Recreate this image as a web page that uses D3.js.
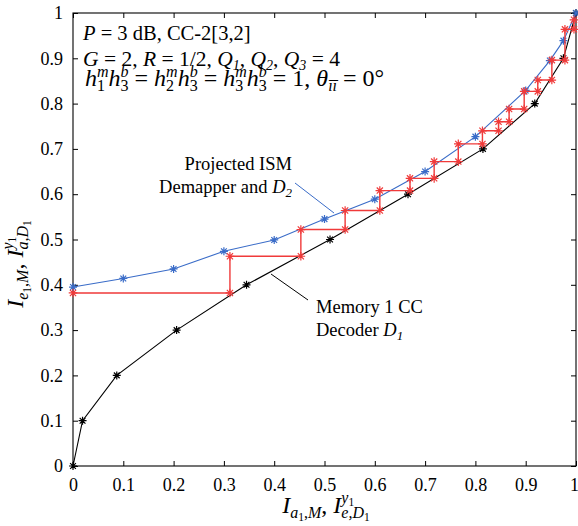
<!DOCTYPE html>
<html>
<head>
<meta charset="utf-8">
<script src="https://cdn.jsdelivr.net/npm/d3@7"></script>
<style>
  html, body { margin: 0; padding: 0; background: #fff; }
  svg { display: block; }
  text { font-family: "Liberation Serif", "Times New Roman", serif; fill: #000; white-space: pre; }
</style>
</head>
<body>
<svg id="chart" width="578" height="526"></svg>
<script>
// EXIT chart: decoder D1 transfer curve, projected ISM demapper + D2 curve, decoding trajectory

// Memory 1 CC decoder D1
const decoderX = [0, 0.019, 0.087, 0.206, 0.345, 0.511, 0.666, 0.815, 0.918, 0.975, 1];
const decoderY = [0, 0.1, 0.2, 0.3, 0.4, 0.5, 0.6, 0.7, 0.8, 0.9, 1];

// Projected ISM demapper and D2
const demapX = [0, 0.1, 0.2, 0.3, 0.4, 0.5, 0.6, 0.7, 0.8, 0.9, 0.948, 0.975, 1];
const demapY = [0.395, 0.414, 0.435, 0.474, 0.499, 0.545, 0.589, 0.650, 0.727, 0.829, 0.895, 0.939, 1];

// Decoding trajectory (staircase corners)
const trajX = [0, 0.312, 0.312, 0.453, 0.453, 0.541, 0.541, 0.610, 0.610, 0.670, 0.670, 0.718, 0.718,
               0.766, 0.766, 0.814, 0.814, 0.846, 0.846, 0.867, 0.867, 0.897, 0.897, 0.924, 0.924,
               0.952, 0.952, 0.978, 0.978, 0.996, 0.996];
const trajY = [0.382, 0.382, 0.463, 0.463, 0.522, 0.522, 0.564, 0.564, 0.608, 0.608, 0.635, 0.635, 0.672,
               0.672, 0.711, 0.711, 0.740, 0.740, 0.760, 0.760, 0.788, 0.788, 0.827, 0.827, 0.852,
               0.852, 0.896, 0.896, 0.964, 0.964, 0.985];

const tickValues = [0, 0.1, 0.2, 0.3, 0.4, 0.5, 0.6, 0.7, 0.8, 0.9, 1];
const tickLabels = ["0", "0.1", "0.2", "0.3", "0.4", "0.5", "0.6", "0.7", "0.8", "0.9", "1"];

const BLACK = "#000000";
const BLUE = "#3a6cc8";
const RED = "#f03a3a";

const svg = d3.select("#chart");
const plot = { left: 73, right: 576, top: 13, bottom: 466 };

const x = d3.scaleLinear().domain([0, 1]).range([plot.left, plot.right]);
const y = d3.scaleLinear().domain([0, 1]).range([plot.bottom, plot.top]);

// axes with inward ticks on all four sides
const fmt = (d) => tickLabels[tickValues.indexOf(d)];
const axisStyle = (g) => {
  g.selectAll(".domain").remove();
  g.selectAll("line").attr("stroke", "#000").attr("stroke-width", 1);
  g.selectAll("text").style("font-size", "18px").style("font-family", "'Liberation Serif', serif");
};

const bottomAxis = svg.append("g").attr("transform", `translate(0,${plot.bottom})`)
  .call(d3.axisBottom(x).tickValues(tickValues).tickFormat(fmt).tickSizeInner(-5).tickSizeOuter(0).tickPadding(12))
  .call(axisStyle);
// keep the last label inside the canvas edge
bottomAxis.selectAll(".tick").filter((d) => d === 1).select("text").attr("dx", "-2");

svg.append("g").attr("transform", `translate(0,${plot.top})`)
  .call(d3.axisTop(x).tickValues(tickValues).tickFormat("").tickSizeInner(-5).tickSizeOuter(0))
  .call(axisStyle);
svg.append("g").attr("transform", `translate(${plot.left},0)`)
  .call(d3.axisLeft(y).tickValues(tickValues).tickFormat(fmt).tickSizeInner(-5).tickSizeOuter(0).tickPadding(10))
  .call(axisStyle);
svg.append("g").attr("transform", `translate(${plot.right},0)`)
  .call(d3.axisRight(y).tickValues(tickValues).tickFormat("").tickSizeInner(-5).tickSizeOuter(0))
  .call(axisStyle);

svg.append("rect")
  .attr("x", plot.left).attr("y", plot.top)
  .attr("width", plot.right - plot.left).attr("height", plot.bottom - plot.top)
  .attr("fill", "none").attr("stroke", "#000").attr("stroke-width", 1.1);

// asterisk marker: "+" overlaid with "x"
function asterisk(g, px, py, color, r) {
  const d = r * 0.72;
  const p = `M${px - r},${py}L${px + r},${py}M${px},${py - r}L${px},${py + r}` +
            `M${px - d},${py - d}L${px + d},${py + d}M${px - d},${py + d}L${px + d},${py - d}`;
  g.append("path").attr("d", p).attr("stroke", color).attr("stroke-width", 1.2).attr("fill", "none");
}

function series(xs, ys, color, r, width) {
  const pts = xs.map((v, i) => [v, ys[i]]);
  const line = d3.line().x((d) => x(d[0])).y((d) => y(d[1]));
  const g = svg.append("g");
  g.append("path").datum(pts).attr("d", line)
    .attr("fill", "none").attr("stroke", color).attr("stroke-width", width);
  pts.forEach((d) => asterisk(g, x(d[0]), y(d[1]), color, r));
}

series(decoderX, decoderY, BLACK, 4, 1.1);
series(demapX, demapY, BLUE, 4, 1.1);
series(trajX, trajY, RED, 4.3, 1.4);

// rich-text layout: one <text> with positioned tspans; "mark" remembers the pen
// position so a following "stack" piece can sit under a superscript
function richText(parent, pieces) {
  const t = parent.append("text");
  let cur = 0, maxX = 0, markX = 0;
  pieces.forEach((p) => {
    if (p.reset) cur = maxX;
    if (p.mark) markX = cur;
    const px = p.stack ? markX : cur;
    const s = t.append("tspan")
      .attr("x", px).attr("y", p.dy || 0)
      .style("font-size", p.s + "px")
      .style("font-style", p.i ? "italic" : "normal")
      .text(p.t);
    const w = s.node().getComputedTextLength();
    cur = px + w;
    maxX = Math.max(maxX, cur);
  });
  return { g: t, width: maxX };
}

function place(pieces, tx, ty, anchor, rotate) {
  const holder = svg.append("g");
  const r = richText(holder, pieces);
  const shift = -r.width * anchor;
  r.g.attr("transform", `translate(${shift},0)`);
  holder.attr("transform", `translate(${tx},${ty})` + (rotate ? ` rotate(${rotate})` : ""));
}

// axis titles
const M = 24, S = 16, SS = 11.5;
const axisTitle = (first, second) => [
  { t: "I", s: M, i: true },
  { t: first, s: S, i: true, dy: 5 },
  { t: "1", s: SS, dy: 8 },
  { t: ",", s: S, dy: 5 },
  { t: "M", s: S, i: true, dy: 5 },
  { t: ", ", s: M },
  { t: "I", s: M, i: true },
  { t: "y", s: S, i: true, dy: -10, mark: true },
  { t: "1", s: SS, dy: -7 },
  { t: second, s: S, i: true, dy: 5, stack: true },
  { t: "D", s: S, i: true, dy: 5 },
  { t: "1", s: SS, dy: 8 }
];
place(axisTitle("a", "e,"), 326, 513, 0.5, 0);
place(axisTitle("e", "a,"), 23, 264, 0.5, -90);

// parameter block
const F = 20.5, FS = 14;
place([
  { t: "P", s: F, i: true },
  { t: " = 3 dB, CC-2[3,2]", s: F }
], 83, 40, 0, 0);

const F2 = 21.5;
place([
  { t: "G", s: F2, i: true },
  { t: " = 2, ", s: F2 },
  { t: "R", s: F2, i: true },
  { t: " = 1/2, ", s: F2 },
  { t: "Q", s: F2, i: true },
  { t: "1", s: FS, i: true, dy: 4 },
  { t: ", ", s: F2 },
  { t: "Q", s: F2, i: true },
  { t: "2", s: FS, i: true, dy: 4 },
  { t: ", ", s: F2 },
  { t: "Q", s: F2, i: true },
  { t: "3", s: FS, i: true, dy: 4 },
  { t: " = 4", s: F2 }
], 83, 66, 0, 0);

const H = 24, HS = 16;
const hh = (a, b) => [
  { t: "h", s: H, i: true },
  { t: "m", s: HS, i: true, dy: -9, mark: true },
  { t: a, s: HS, dy: 5, stack: true },
  { t: "h", s: H, i: true, reset: true },
  { t: "b", s: HS, i: true, dy: -9, mark: true },
  { t: b, s: HS, dy: 5, stack: true }
];
place([
  ...hh("1", "3"),
  { t: " = ", s: H, reset: true },
  ...hh("2", "3"),
  { t: " = ", s: H, reset: true },
  ...hh("3", "3"),
  { t: " = 1, ", s: H, reset: true },
  { t: "\u03B8", s: H, i: true },
  { t: "\u012B\u012B", s: HS, i: true, dy: 5 },
  { t: " = 0\u00B0", s: H }
], 85, 86, 0, 0);

// curve annotations with leader lines
place([{ t: "Projected ISM", s: 18.5 }], 292, 170, 1, 0);
place([
  { t: "Demapper and ", s: 18.5 },
  { t: "D", s: 18.5, i: true },
  { t: "2", s: 13, i: true, dy: 4 }
], 292, 193, 1, 0);
svg.append("line").attr("x1", 295).attr("y1", 183).attr("x2", 334).attr("y2", 213)
  .attr("stroke", BLUE).attr("stroke-width", 1);

place([{ t: "Memory 1 CC", s: 18.5 }], 316, 313, 0, 0);
place([
  { t: "Decoder ", s: 18.5 },
  { t: "D", s: 18.5, i: true },
  { t: "1", s: 13, i: true, dy: 4 }
], 316, 336, 0, 0);
svg.append("line").attr("x1", 271).attr("y1", 274).attr("x2", 308).attr("y2", 300)
  .attr("stroke", BLACK).attr("stroke-width", 1);
</script>
</body>
</html>
